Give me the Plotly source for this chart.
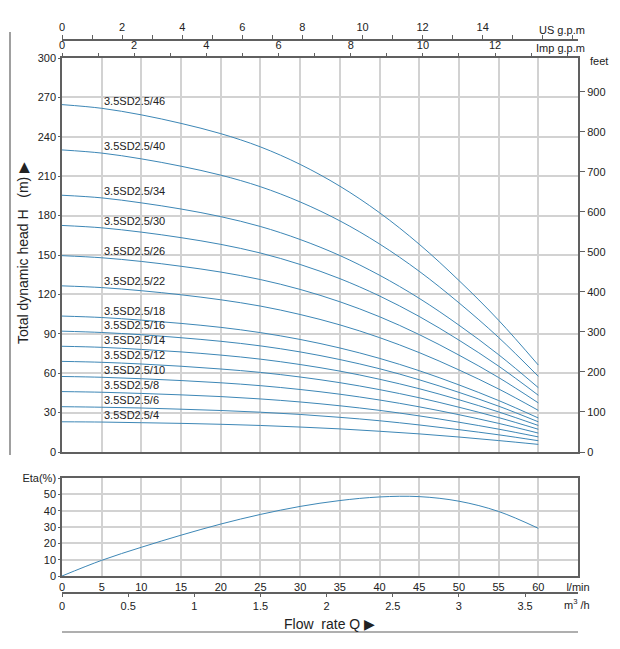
import plotly.graph_objects as go

# ---- data ----
flow_lpm = [0, 5, 10, 15, 20, 25, 30, 35, 40, 45, 50, 55, 60]

model_names = ["3.5SD2.5/4", "3.5SD2.5/6", "3.5SD2.5/8", "3.5SD2.5/10", "3.5SD2.5/12",
               "3.5SD2.5/14", "3.5SD2.5/16", "3.5SD2.5/18", "3.5SD2.5/22", "3.5SD2.5/26",
               "3.5SD2.5/30", "3.5SD2.5/34", "3.5SD2.5/40", "3.5SD2.5/46"]

head_4 = [23.0, 22.8, 22.3, 21.8, 21.1, 20.2, 19.0, 17.6, 15.8, 13.8, 11.4, 8.7, 5.8]
head_6 = [34.5, 34.1, 33.5, 32.6, 31.6, 30.3, 28.6, 26.4, 23.8, 20.6, 17.0, 13.1, 8.6]
head_8 = [46.0, 45.5, 44.6, 43.5, 42.2, 40.4, 38.1, 35.2, 31.7, 27.5, 22.7, 17.4, 11.5]
head_10 = [57.5, 56.9, 55.8, 54.4, 52.7, 50.5, 47.6, 44.0, 39.6, 34.4, 28.4, 21.8, 14.4]
head_12 = [69.0, 68.3, 67.0, 65.3, 63.2, 60.6, 57.1, 52.8, 47.5, 41.3, 34.1, 26.2, 17.3]
head_14 = [80.5, 79.7, 78.1, 76.2, 73.8, 70.7, 66.6, 61.6, 55.4, 48.2, 39.8, 30.5, 20.2]
head_16 = [92.0, 91.0, 89.3, 87.0, 84.3, 80.8, 76.2, 70.4, 63.4, 55.0, 45.4, 34.9, 23.0]
head_18 = [103.5, 102.4, 100.4, 97.9, 94.9, 90.9, 85.7, 79.2, 71.3, 61.9, 51.1, 39.2, 25.9]
head_22 = [126.5, 125.2, 122.8, 119.7, 115.9, 111.1, 104.7, 96.8, 87.1, 75.7, 62.5, 48.0, 31.7]
head_26 = [149.5, 147.9, 145.1, 141.4, 137.0, 131.3, 123.8, 114.4, 103.0, 89.4, 73.8, 56.7, 37.4]
head_30 = [172.5, 170.7, 167.4, 163.2, 158.1, 151.5, 142.8, 132.0, 118.8, 103.2, 85.2, 65.4, 43.2]
head_34 = [195.5, 193.5, 189.7, 185.0, 179.2, 171.7, 161.8, 149.6, 134.6, 117.0, 96.6, 74.1, 49.0]
head_40 = [230.0, 227.6, 223.2, 217.6, 210.8, 202.0, 190.4, 176.0, 158.4, 137.6, 113.6, 87.2, 57.6]
head_46 = [264.5, 261.7, 256.7, 250.2, 242.4, 232.3, 219.0, 202.4, 182.2, 158.2, 130.6, 100.3, 66.2]

heads = [head_4, head_6, head_8, head_10, head_12, head_14, head_16, head_18,
         head_22, head_26, head_30, head_34, head_40, head_46]

efficiency = [0, 9.6, 17.6, 25.0, 31.8, 37.7, 42.6, 46.2, 48.4, 48.6, 45.8, 39.5, 29.2]

head_ticks = [0, 30, 60, 90, 120, 150, 180, 210, 240, 270, 300]
feet_ticks = [0, 100, 200, 300, 400, 500, 600, 700, 800, 900]
lpm_ticks = [0, 5, 10, 15, 20, 25, 30, 35, 40, 45, 50, 55, 60, 65]
lpm_labels = ["0", "5", "10", "15", "20", "25", "30", "35", "40", "45", "50", "55", "60", "l/min"]
m3h_ticks = [0, 0.5, 1, 1.5, 2, 2.5, 3, 3.5]
m3h_labels = ["0", "0.5", "1", "1.5", "2", "2.5", "3", "3.5"]
eta_ticks = [0, 10, 20, 30, 40, 50, 60]
eta_labels = ["0", "10", "20", "30", "40", "50", "Eta(%)"]
usgpm_major = [0, 2, 4, 6, 8, 10, 12, 14]
usgpm_minor = [1, 3, 5, 7, 9, 11, 13, 15, 16, 17]
impgpm_major = [0, 2, 4, 6, 8, 10, 12]
impgpm_minor = [1, 3, 5, 7, 9, 11, 13, 14]

Q_MAX = 65.0
M_TO_FT = 3.28084
LPM_PER_USGPM = 3.78541
LPM_PER_IMPGPM = 4.54609

# ---- style ----
W, H = 620, 649
FONT = "Liberation Sans, Arial, sans-serif"
CURVE = "#3d87b6"
GRID = "#d2d2d2"
AXIS = "#606060"
TXT = "#222222"

def px_x(p):
    return p / W

def px_y(p):
    return 1 - p / H

xdom = [px_x(62), px_x(578)]
top_dom = [px_y(452), px_y(58)]
bot_dom = [px_y(576), px_y(478)]

fig = go.Figure()

for name, h in zip(model_names, heads):
    fig.add_trace(go.Scatter(x=flow_lpm, y=h, mode="lines", name=name,
                             line=dict(color=CURVE, width=1, shape="spline"),
                             xaxis="x", yaxis="y", showlegend=False))
    fig.add_annotation(x=flow_lpm[1], y=h[1], xref="x", yref="y", text=name,
                       showarrow=False, xanchor="left", yanchor="bottom", yshift=-1,
                       font=dict(size=11, color=TXT, family=FONT))

fig.add_trace(go.Scatter(x=flow_lpm, y=efficiency, mode="lines",
                         line=dict(color=CURVE, width=1, shape="spline"),
                         xaxis="x4", yaxis="y3", showlegend=False))

# invisible helper traces so the secondary unit axes are drawn
for xa, ya in [("x2", "y"), ("x3", "y"), ("x", "y2"), ("x5", "y3")]:
    fig.add_trace(go.Scatter(x=[0], y=[0], mode="markers", marker=dict(size=1, opacity=0),
                             xaxis=xa, yaxis=ya, showlegend=False, hoverinfo="skip"))

tickfont = dict(size=11, color=TXT, family=FONT)

fig.update_layout(
    template="none",
    width=W, height=H, autosize=False,
    margin=dict(l=0, r=0, t=0, b=0, pad=0),
    paper_bgcolor="white", plot_bgcolor="white",
    font=dict(family=FONT, color=TXT),
    xaxis=dict(domain=xdom, range=[0, Q_MAX], anchor="y", dtick=5, tick0=0,
               showticklabels=False, ticks="", showgrid=True, gridcolor=GRID, gridwidth=1.5,
               showline=True, linecolor=AXIS, linewidth=1.5, mirror=True, zeroline=False,
               automargin=False),
    yaxis=dict(domain=top_dom, range=[0, 300], anchor="x", tickvals=head_ticks,
               ticks="outside", ticklen=2, tickcolor=AXIS, tickfont=tickfont,
               showgrid=True, gridcolor=GRID, gridwidth=1.5,
               showline=True, linecolor=AXIS, linewidth=1.5, mirror=True, zeroline=False,
               automargin=False),
    yaxis2=dict(overlaying="y", side="right", anchor="x", range=[0, 300 * M_TO_FT],
                tickvals=feet_ticks, ticks="outside", ticklen=6, tickcolor=AXIS,
                tickfont=tickfont, showgrid=False, zeroline=False, showline=False,
                automargin=False),
    xaxis2=dict(overlaying="x", side="top", anchor="y", range=[0, Q_MAX / LPM_PER_IMPGPM],
                tickvals=impgpm_major, ticks="outside", ticklen=4,
                minor=dict(tickvals=impgpm_minor, ticks="outside", ticklen=4, tickcolor=AXIS,
                           showgrid=False),
                tickcolor=AXIS, tickfont=tickfont, showgrid=False, zeroline=False,
                showline=False, automargin=False),
    xaxis3=dict(overlaying="x", side="top", anchor="free", position=px_y(40),
                range=[0, Q_MAX / LPM_PER_USGPM],
                tickvals=usgpm_major, ticks="outside", ticklen=4,
                minor=dict(tickvals=usgpm_minor, ticks="outside", ticklen=4, tickcolor=AXIS,
                           showgrid=False),
                tickcolor=AXIS, tickfont=tickfont, showgrid=False, zeroline=False,
                showline=True, linecolor=AXIS, linewidth=1.5, automargin=False),
    xaxis4=dict(domain=xdom, range=[0, Q_MAX], anchor="y3", tickvals=lpm_ticks,
                ticktext=lpm_labels, ticks="", tickfont=tickfont,
                showgrid=True, gridcolor=GRID, gridwidth=1.5,
                showline=True, linecolor=AXIS, linewidth=1.5, mirror=True, zeroline=False,
                automargin=False),
    yaxis3=dict(domain=bot_dom, range=[0, 60], anchor="x4", tickvals=eta_ticks,
                ticktext=eta_labels, ticks="outside", ticklen=2, tickcolor=AXIS,
                tickfont=tickfont, showgrid=True, gridcolor=GRID, gridwidth=1.5,
                showline=True, linecolor=AXIS, linewidth=1.5, mirror=True, zeroline=False,
                automargin=False),
    xaxis5=dict(overlaying="x4", side="bottom", anchor="free", position=px_y(593),
                range=[0, Q_MAX * 0.06], tickvals=m3h_ticks, ticktext=m3h_labels,
                ticks="outside", ticklen=3, tickcolor=AXIS, tickfont=tickfont,
                showgrid=False, zeroline=False, showline=True, linecolor=AXIS, linewidth=1.5,
                automargin=False),
)

fig.add_annotation(xref="paper", yref="paper", x=px_x(587), y=px_y(30), text="US g.p.m",
                   showarrow=False, xanchor="right", yanchor="middle", font=tickfont)
fig.add_annotation(xref="paper", yref="paper", x=px_x(587), y=px_y(48), text="Imp g.p.m",
                   showarrow=False, xanchor="right", yanchor="middle", font=tickfont)
fig.add_annotation(xref="paper", yref="paper", x=px_x(588), y=px_y(61), text="feet",
                   showarrow=False, xanchor="left", yanchor="middle", font=tickfont)
fig.add_annotation(xref="paper", yref="paper", x=px_x(577), y=px_y(604),
                   text="m<sup>3</sup> /h", showarrow=False, xanchor="center",
                   yanchor="middle", font=tickfont)
fig.add_annotation(xref="paper", yref="paper", x=px_x(329), y=px_y(624),
                   text="Flow  rate Q ▶", showarrow=False, xanchor="center", yanchor="middle",
                   font=dict(size=14, color=TXT, family=FONT))
fig.add_annotation(xref="paper", yref="paper", x=px_x(23), y=px_y(253),
                   text="Total dynamic head H   (m) ▶", textangle=-90, showarrow=False,
                   xanchor="center", yanchor="middle",
                   font=dict(size=14, color=TXT, family=FONT))

fig.add_shape(type="line", xref="paper", yref="paper", x0=px_x(10), x1=px_x(10),
              y0=px_y(32), y1=px_y(455), line=dict(color=AXIS, width=1.2))
fig.add_shape(type="line", xref="paper", yref="paper", x0=px_x(62), x1=px_x(578),
              y0=px_y(632), y1=px_y(632), line=dict(color=AXIS, width=1.2))

fig.write_html("out.html", config={"displayModeBar": False},
               post_script="document.body.style.margin='0';document.body.style.overflow='hidden';")
